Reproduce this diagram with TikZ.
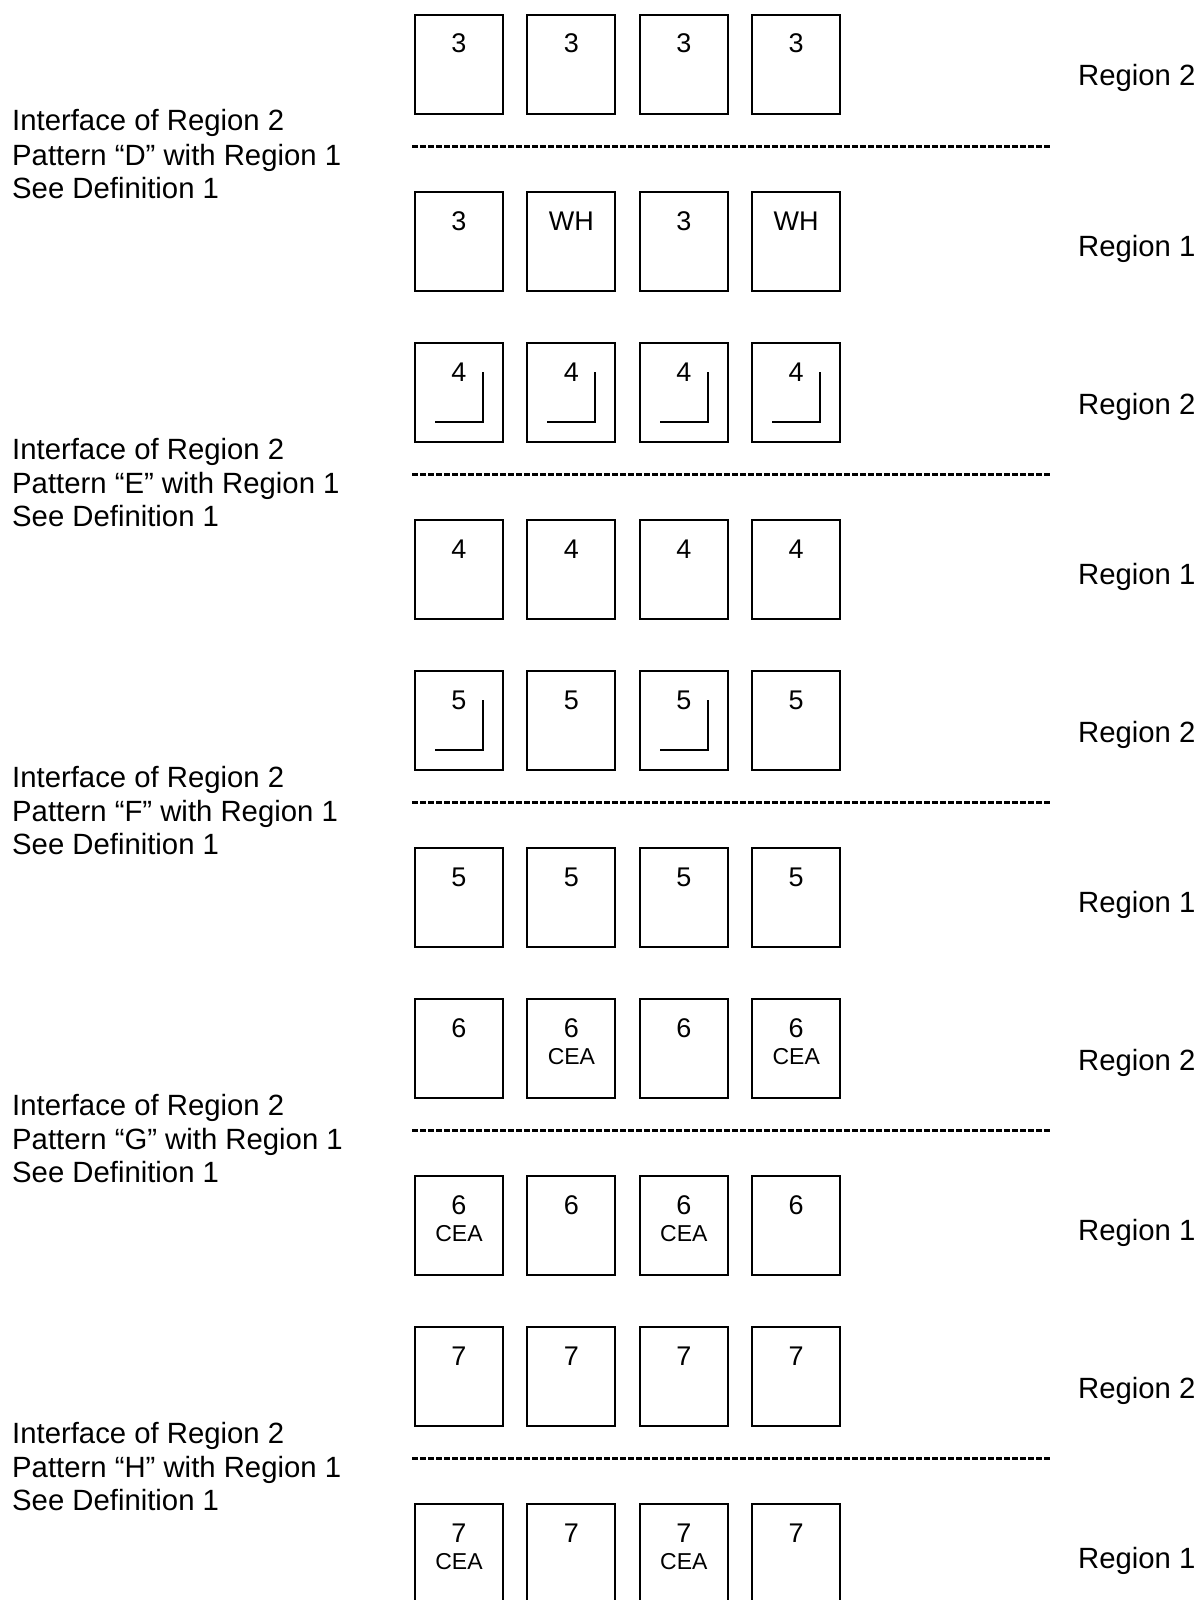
\documentclass[tikz,border=0pt]{standalone}
\usepackage{fontspec}
\setmainfont{Liberation Sans}
\begin{document}
\begin{tikzpicture}[x=1pt,y=-1pt,
  cell/.style={draw, line width=1.9pt, minimum width=88pt, minimum height=99pt, inner sep=0pt, outer sep=0pt, anchor=north west},
  num/.style={font=\fontsize{27}{27}\selectfont, anchor=base, inner sep=0pt},
  cea/.style={font=\fontsize{23}{23}\selectfont, anchor=base, inner sep=0pt},
  lab/.style={font=\fontsize{29.3}{29.3}\selectfont, anchor=base west, inner sep=0pt},
  iface/.style={line width=3pt, dash pattern=on 6pt off 2pt},
  corner/.style={line width=1.9pt}]
\useasboundingbox (0,0) rectangle (1201,1600);
\clip (0,0) rectangle (1201,1600);
\foreach \k/\P in {0/D,1/E,2/F,3/G,4/H}{
  \pgfmathsetmacro\yo{328*\k}
  \node[lab] (t\P a) at (12,131+\yo) {Interface of Region 2};
  \node[lab] (t\P b) at (12,165+\yo) {Pattern “\P” with Region 1};
  \node[lab] (t\P c) at (12,198+\yo) {See Definition 1};
  \node[lab] (r\P two) at (1078,86+\yo) {Region 2};
  \node[lab] (r\P one) at (1078,256+\yo) {Region 1};
  \coordinate (l\P) at (412,146+\yo);
  \coordinate (m\P) at (1051,146+\yo);
  \draw[iface] (l\P) -- (m\P);
  \foreach \i in {0,...,3}{
    \node[cell] (a\P\i) at (415+112.4*\i,15+\yo) {};
    \node[cell] (b\P\i) at (415+112.4*\i,192+\yo) {};
  }
}
% upper row numbers
\foreach \P/\d in {D/3,E/4,F/5,G/6,H/7}{
  \foreach \i in {0,...,3}{
    \node[num] (na\P\i) at ([yshift=-38pt]a\P\i.north) {\d};
  }
}
% lower row numbers
\foreach \P/\i/\t in {D/0/3,D/1/WH,D/2/3,D/3/WH,
  E/0/4,E/1/4,E/2/4,E/3/4,
  F/0/5,F/1/5,F/2/5,F/3/5,
  G/0/6,G/1/6,G/2/6,G/3/6,
  H/0/7,H/1/7,H/2/7,H/3/7}{
  \node[num] (nb\P\i) at ([yshift=-38pt]b\P\i.north) {\t};
}
% CEA labels
\node[cea] (ceaG1) at ([yshift=-65pt]aG1.north) {CEA};
\node[cea] (ceaG3) at ([yshift=-65pt]aG3.north) {CEA};
\node[cea] (ceaGb0) at ([yshift=-65pt]bG0.north) {CEA};
\node[cea] (ceaGb2) at ([yshift=-65pt]bG2.north) {CEA};
\node[cea] (ceaHb0) at ([yshift=-65pt]bH0.north) {CEA};
\node[cea] (ceaHb2) at ([yshift=-65pt]bH2.north) {CEA};
% corner marks
\foreach \b in {aE0,aE1,aE2,aE3,aF0,aF2}{
  \draw[corner] ([xshift=68pt,yshift=-29pt]\b.north west) -- ([xshift=68pt,yshift=-79pt]\b.north west) -- ([xshift=20pt,yshift=-79pt]\b.north west);
}
\end{tikzpicture}
\end{document}
